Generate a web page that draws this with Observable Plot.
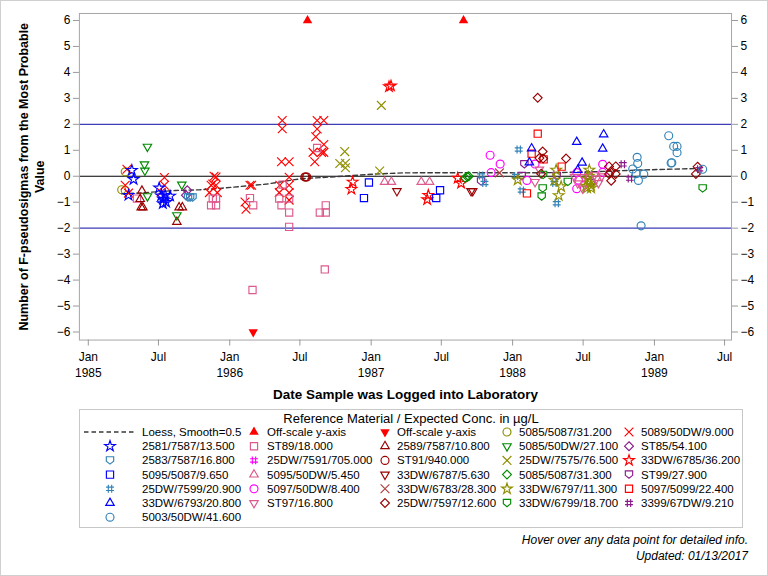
<!DOCTYPE html>
<html><head><meta charset="utf-8">
<script src="https://cdn.jsdelivr.net/npm/d3@7"></script>
<script src="https://cdn.jsdelivr.net/npm/@observablehq/plot@0.6"></script>
<style>
body{margin:0;background:#fff;font-family:"Liberation Sans",Arial,sans-serif;}
#wrap{position:relative;width:766px;height:574px;border:1px solid #cfcfcf;overflow:hidden;background:#fff}
#chart{position:absolute;left:-1px;top:-1px}
#legend{position:absolute;left:-1px;top:404px}
</style></head>
<body><div id="wrap"><div id="chart"></div><svg id="legend" width="768" height="171"></svg></div>
<script>
// ---------- data (decimal year, F-pseudosigmas) ----------
const xTickDates = ["1985-01-01","1985-07-01","1986-01-01","1986-07-01","1987-01-01","1987-07-01","1988-01-01","1988-07-01","1989-01-01","1989-07-01"];
const yTickValues = [-6,-5,-4,-3,-2,-1,0,1,2,3,4,5,6];
const loess = [[1985.236,-0.68],[1985.402,-0.63],[1985.614,-0.55],[1985.79,-0.52],[1985.945,-0.46],[1986.263,-0.3],[1986.496,-0.1],[1986.827,0.01],[1987.011,0.08],[1987.222,0.13],[1987.716,0.14],[1988.048,0.13],[1988.307,0.14],[1988.612,0.18],[1988.894,0.24],[1989.317,0.3]];
const offUp = [[1986.550,6],[1987.653,6]];
const offDown = [[1986.166,-6]];
const s5085_5087_31200 = [[1985.261,0.17],[1985.236,-0.52],[1985.261,-0.55]];
const s5089_50DW_9000 = [[1985.273,0.27],[1985.261,-0.35],[1985.284,-0.65],[1985.538,-0.05],[1985.538,-0.35],[1985.515,-0.62],
 [1985.903,-0.03],[1985.889,0.0],[1985.868,-0.35],[1985.903,-0.35],[1985.880,-0.30],[1985.856,-0.63],[1985.912,-0.63],
 [1986.143,-0.35],[1986.155,-0.35],[1986.108,-0.99],[1986.115,-1.27],
 [1986.371,2.15],[1986.371,1.83],[1986.366,0.56],[1986.420,0.56],[1986.420,-0.04],[1986.354,-0.35],[1986.420,-0.35],[1986.350,-0.63],[1986.420,-0.63],[1986.420,-0.92],
 [1986.618,2.15],[1986.665,2.15],[1986.618,1.82],[1986.608,1.52],[1986.665,1.22],[1986.589,0.92],[1986.649,0.92],[1986.665,0.92],[1986.601,0.56]];
const s2581_7587_13500 = [[1985.308,0.23],[1985.320,-0.12],[1985.284,-0.73],[1985.501,-0.45],[1985.543,-0.73],[1985.578,-0.76],[1985.527,-1.05],[1985.550,-1.0],[1985.530,-0.88],[1985.515,-0.75]];
const sST89_18000 = [[1985.344,-0.86],[1985.868,-1.12],[1985.903,-1.12],[1985.880,-0.86],[1985.903,-0.86],[1986.143,-0.84],[1986.166,-1.12],[1986.161,-4.38],[1986.350,-0.86],[1986.366,-1.12],[1986.374,-0.32],[1986.420,-0.86],[1986.420,-1.40],[1986.420,-1.95],[1986.618,1.09],[1986.637,-1.40],[1986.679,-1.40],[1986.679,-1.12],[1986.672,-3.59]];
const s2589_7587_10800 = [[1985.379,-0.56],[1985.367,-0.88],[1985.374,-1.2],[1985.386,-1.2],[1985.642,-1.2],[1985.665,-1.2],[1985.626,-1.76]];
const s5085_50DW_27100 = [[1985.418,1.14],[1985.397,0.46],[1985.400,0.22],[1985.418,-0.77],[1985.661,-0.32],[1985.626,-1.5]];
const sST85_54100 = [[1985.700,-0.54],[1985.690,-0.73]];
const s2583_7587_16800 = [[1985.705,-0.82],[1985.720,-0.82],[1985.737,-0.82]];
const s25DW_7591_705000 = [];
const sST91_940000 = [[1986.531,-0.03],[1986.538,-0.03],[1986.545,-0.03]];
const s25DW_7575_76500 = [[1986.813,0.95],[1986.778,0.49],[1986.818,0.50],[1986.818,0.33],[1987.072,2.73],[1987.060,0.20]];
const s33DW_6785_36200 = [[1986.869,-0.22],[1986.860,-0.50],[1987.126,3.45],[1987.140,3.48],[1987.404,-0.73],[1987.396,-0.90],[1987.612,-0.07],[1987.636,-0.27]];
const s5095_5087_9650 = [[1986.984,-0.24],[1986.949,-0.84],[1987.487,-0.54],[1987.460,-0.84]];
const s5095_50DW_5450 = [[1987.095,-0.22],[1987.143,-0.22],[1987.354,-0.22],[1987.413,-0.22]];
const s33DW_6787_5630 = [[1987.182,-0.57],[1987.706,-0.57],[1987.718,-0.57]];
const s5085_5087_31300 = [[1987.665,-0.07],[1987.680,-0.02],[1987.690,0.0]];
const sST99_27900 = [[1987.777,-0.2],[1988.083,0.46],[1988.064,0.01],[1988.311,0.01],[1988.536,0.01],[1988.553,-0.26]];
const s25DW_7599_20900 = [[1988.043,1.03],[1988.064,-0.55],[1988.311,-1.04],[1988.295,-0.26],[1987.801,-0.26],[1987.777,0.03],[1988.024,0.01]];
const s5097_50DW_8400 = [[1987.841,0.81],[1987.912,0.47],[1987.848,0.14],[1988.101,-0.16],[1988.158,0.47],[1988.452,0.14],[1988.466,-0.15],[1988.452,-0.48],[1988.635,0.46],[1988.635,0.15]];
const s33DW_6783_28300 = [[1987.907,0.13]];
const s33DW_6797_11300 = [[1988.036,-0.14],[1988.307,0.24],[1988.295,-0.15],[1988.342,-0.40],[1988.325,-0.74],[1988.541,0.24],[1988.531,-0.10],[1988.553,-0.35],[1988.518,-0.38],[1988.541,-0.25],[1988.525,-0.45],[1988.553,-0.45],[1988.535,0.0]];
const s5097_5099_22400 = [[1988.177,1.64],[1988.134,0.87],[1988.219,0.65],[1988.101,-0.66],[1988.346,0.37]];
const s33DW_6793_20800 = [[1988.134,1.07],[1988.118,0.53],[1988.452,1.32],[1988.490,0.52],[1988.459,0.24],[1988.642,1.61],[1988.635,1.06]];
const sST97_16800 = [[1988.189,0.26],[1988.158,-0.22],[1988.436,-0.02],[1988.501,-0.03],[1988.459,-0.27],[1988.494,-0.47],[1988.577,0.04],[1988.605,-0.26],[1988.591,-0.09],[1988.628,0.0]];
const s25DW_7597_12600 = [[1988.177,3.02],[1988.212,0.95],[1988.189,0.70],[1988.215,0.68],[1988.201,0.10],[1988.377,0.68],[1988.680,0.38],[1988.727,0.38],[1988.680,0.09],[1988.727,0.09],[1988.695,-0.17],[1988.690,0.17],[1989.305,0.37],[1989.293,0.09]];
const s33DW_6799_18700 = [[1988.215,0.05],[1988.212,-0.47],[1988.205,-0.78],[1988.389,-0.22],[1989.341,-0.47]];
const s3399_67DW_9210 = [[1988.777,0.46],[1988.827,-0.09],[1989.317,0.27]];
const s5003_50DW_41600 = [[1988.847,0.28],[1988.878,0.73],[1988.882,0.49],[1988.871,0.10],[1988.925,0.08],[1988.887,-0.16],[1988.906,-1.91],[1989.101,1.56],[1989.136,1.15],[1989.160,1.15],[1989.160,0.91],[1989.118,0.51],[1989.123,0.52],[1989.341,0.27]];

// ---------- symbols ----------
const triUp = {draw(c,size){const s=Math.sqrt(size)*1.2,h=s*0.866;c.moveTo(0,-2*h/3);c.lineTo(s/2,h/3);c.lineTo(-s/2,h/3);c.closePath();}};
const triDown = {draw(c,size){const s=Math.sqrt(size)*1.2,h=s*0.866;c.moveTo(0,2*h/3);c.lineTo(s/2,-h/3);c.lineTo(-s/2,-h/3);c.closePath();}};
const shield = {draw(c,size){const r=Math.sqrt(size)*0.52;c.moveTo(-r,-r);c.lineTo(r,-r);c.lineTo(r,0.2*r);c.lineTo(0,r);c.lineTo(-r,0.2*r);c.closePath();}};
const hash = {draw(c,size){const r=Math.sqrt(size)*0.55,a=r*0.42;c.moveTo(-a,-r);c.lineTo(-a,r);c.moveTo(a,-r);c.lineTo(a,r);c.moveTo(-r,-a);c.lineTo(r,-a);c.moveTo(-r,a);c.lineTo(r,a);}};
const C = {red:"#ff0000",blue:"#0000ff",pink:"#dc5a8c",dred:"#990000",green:"#008a00",purple:"#8a1a8a",steel:"#3383b8",magenta:"#ff00ff",olive:"#8f8f00",brown:"#b04040"};
const SZ = {circle:50,times:52,star:36,square:52,tri:50,diamond:50,shield:50,hash:52};

// legend order (row-major, 5 columns)
const series = [
 {label:"Loess, Smooth=0.5", loess:true},
 {label:"Off-scale y-axis", data:offUp, sym:triUp, size:62, color:C.red, filled:true},
 {label:"Off-scale y-axis", data:offDown, sym:triDown, size:62, color:C.red, filled:true},
 {label:"5085/5087/31.200", data:s5085_5087_31200, sym:d3.symbolCircle, size:SZ.circle, color:C.olive},
 {label:"5089/50DW/9.000", data:s5089_50DW_9000, sym:d3.symbolTimes, size:SZ.times, color:C.red},
 {label:"2581/7587/13.500", data:s2581_7587_13500, sym:d3.symbolStar, size:SZ.star, color:C.blue},
 {label:"ST89/18.000", data:sST89_18000, sym:d3.symbolSquare, size:SZ.square, color:C.pink},
 {label:"2589/7587/10.800", data:s2589_7587_10800, sym:triUp, size:SZ.tri, color:C.dred},
 {label:"5085/50DW/27.100", data:s5085_50DW_27100, sym:triDown, size:SZ.tri, color:C.green},
 {label:"ST85/54.100", data:sST85_54100, sym:d3.symbolDiamond2, size:SZ.diamond, color:C.purple},
 {label:"2583/7587/16.800", data:s2583_7587_16800, sym:shield, size:SZ.shield, color:C.steel},
 {label:"25DW/7591/705.000", data:s25DW_7591_705000, sym:hash, size:SZ.hash, color:C.magenta},
 {label:"ST91/940.000", data:sST91_940000, sym:d3.symbolCircle, size:SZ.circle, color:C.dred},
 {label:"25DW/7575/76.500", data:s25DW_7575_76500, sym:d3.symbolTimes, size:SZ.times, color:C.olive},
 {label:"33DW/6785/36.200", data:s33DW_6785_36200, sym:d3.symbolStar, size:SZ.star, color:C.red},
 {label:"5095/5087/9.650", data:s5095_5087_9650, sym:d3.symbolSquare, size:SZ.square, color:C.blue},
 {label:"5095/50DW/5.450", data:s5095_50DW_5450, sym:triUp, size:SZ.tri, color:C.pink},
 {label:"33DW/6787/5.630", data:s33DW_6787_5630, sym:triDown, size:SZ.tri, color:C.dred},
 {label:"5085/5087/31.300", data:s5085_5087_31300, sym:d3.symbolDiamond2, size:SZ.diamond, color:C.green},
 {label:"ST99/27.900", data:sST99_27900, sym:shield, size:SZ.shield, color:C.purple},
 {label:"25DW/7599/20.900", data:s25DW_7599_20900, sym:hash, size:SZ.hash, color:C.steel},
 {label:"5097/50DW/8.400", data:s5097_50DW_8400, sym:d3.symbolCircle, size:SZ.circle, color:C.magenta},
 {label:"33DW/6783/28.300", data:s33DW_6783_28300, sym:d3.symbolTimes, size:SZ.times, color:C.brown},
 {label:"33DW/6797/11.300", data:s33DW_6797_11300, sym:d3.symbolStar, size:SZ.star, color:C.olive},
 {label:"5097/5099/22.400", data:s5097_5099_22400, sym:d3.symbolSquare, size:SZ.square, color:C.red},
 {label:"33DW/6793/20.800", data:s33DW_6793_20800, sym:triUp, size:SZ.tri, color:C.blue},
 {label:"ST97/16.800", data:sST97_16800, sym:triDown, size:SZ.tri, color:C.pink},
 {label:"25DW/7597/12.600", data:s25DW_7597_12600, sym:d3.symbolDiamond2, size:SZ.diamond, color:C.dred},
 {label:"33DW/6799/18.700", data:s33DW_6799_18700, sym:shield, size:SZ.shield, color:C.green},
 {label:"3399/67DW/9.210", data:s3399_67DW_9210, sym:hash, size:SZ.hash, color:C.purple},
 {label:"5003/50DW/41.600", data:s5003_50DW_41600, sym:d3.symbolCircle, size:SZ.circle, color:C.steel}
];

function yd(y){const yr=Math.floor(y),a=Date.UTC(yr,0,1),b=Date.UTC(yr+1,0,1);return new Date(a+(y-yr)*(b-a));}
const X = d => yd(d[0]), Y = d => d[1];
const xTicks = xTickDates.map(s => new Date(s+"T00:00:00Z"));
const font = "Liberation Sans, Arial, sans-serif";

const dotMarks = series.filter(s => !s.loess).map(s => Plot.dot(s.data, {
  x:X, y:Y, symbol:s.sym, r:Math.sqrt(s.size/Math.PI),
  stroke: s.filled ? "none" : s.color, fill: s.filled ? s.color : "none", strokeWidth:1.15
}));

const chart = Plot.plot({
  width:768, height:405,
  marginLeft:79, marginRight:36, marginTop:13, marginBottom:65,
  style:{fontFamily:font, fontSize:"12px", background:"white", overflow:"visible"},
  x:{type:"utc", domain:[new Date(Date.UTC(1984,11,9)), new Date(Date.UTC(1989,6,19))]},
  y:{domain:[-6.31,6.27]},
  marks:[
    Plot.ruleY([2,-2], {stroke:"#3d3db5", strokeWidth:1.2}),
    Plot.ruleY([0], {stroke:"black", strokeWidth:1.2}),
    Plot.frame({stroke:"#a6a6a6"}),
    Plot.axisY({anchor:"left", ticks:yTickValues, tickSize:6, tickPadding:3, stroke:"#999", fill:"black", label:null, fontSize:12}),
    Plot.axisY({anchor:"right", ticks:yTickValues, tickSize:6, tickPadding:3, stroke:"#999", fill:"black", label:null, fontSize:12}),
    Plot.axisX({ticks:xTicks, tickSize:6, tickPadding:4, stroke:"#999", fill:"black", label:null, fontSize:12, lineHeight:1.33,
      tickFormat: d => d.getUTCMonth()===0 ? `Jan\n${d.getUTCFullYear()}` : "Jul"}),
    Plot.line(loess, {x:X, y:Y, stroke:"#3a3a3a", strokeDasharray:"4.5,3", strokeWidth:1.4}),
    ...dotMarks,
    Plot.text(["Number of F-pseudosigmas from the Most Probable\nValue"], {frameAnchor:"left", text:d=>d, rotate:-90, dx:-49, lineAnchor:"middle", textAnchor:"middle", fontWeight:"bold", fontSize:12.5, lineHeight:1.3, fill:"black"}),
    Plot.text(["Date Sample was Logged into Laboratory"], {frameAnchor:"bottom", text:d=>d, dy:55, lineAnchor:"middle", fontWeight:"bold", fontSize:13.5, fill:"black"})
  ]
});
document.getElementById("chart").appendChild(chart);

// ---------- legend ----------
const lg = d3.select("#legend").style("font-family", font);
lg.append("rect").attr("x",79.5).attr("y",4.5).attr("width",663).attr("height",118).attr("fill","white").attr("stroke","#c8c8c8");
lg.append("text").attr("x",411).attr("y",13).attr("dy","0.35em").attr("text-anchor","middle").attr("font-size",13).text("Reference Material / Expected Conc. in \u00b5g/L");
const symX = [110,254,385,507,629], txtX = [142,267,397,519,641];
series.forEach((s,i) => {
  const col = i % 5, row = Math.floor(i/5), y = 27 + row*14.2;
  if (s.loess) {
    lg.append("line").attr("x1",84).attr("x2",135).attr("y1",y).attr("y2",y).attr("stroke","#3a3a3a").attr("stroke-width",1.3).attr("stroke-dasharray","4.5,3");
  } else {
    lg.append("path").attr("transform",`translate(${symX[col]},${y})`).attr("d", d3.symbol(s.sym, s.size)())
      .attr("fill", s.filled ? s.color : "none").attr("stroke", s.filled ? "none" : s.color).attr("stroke-width",1.15);
  }
  lg.append("text").attr("x",txtX[col]).attr("y",y).attr("dy","0.35em").attr("font-size",11.5).text(s.label);
});
lg.append("text").attr("x",748).attr("y",135).attr("dy","0.35em").attr("text-anchor","end").attr("font-style","italic").attr("font-size",12).text("Hover over any data point for detailed info.");
lg.append("text").attr("x",748).attr("y",151).attr("dy","0.35em").attr("text-anchor","end").attr("font-style","italic").attr("font-size",12).text("Updated: 01/13/2017");
</script></body></html>
